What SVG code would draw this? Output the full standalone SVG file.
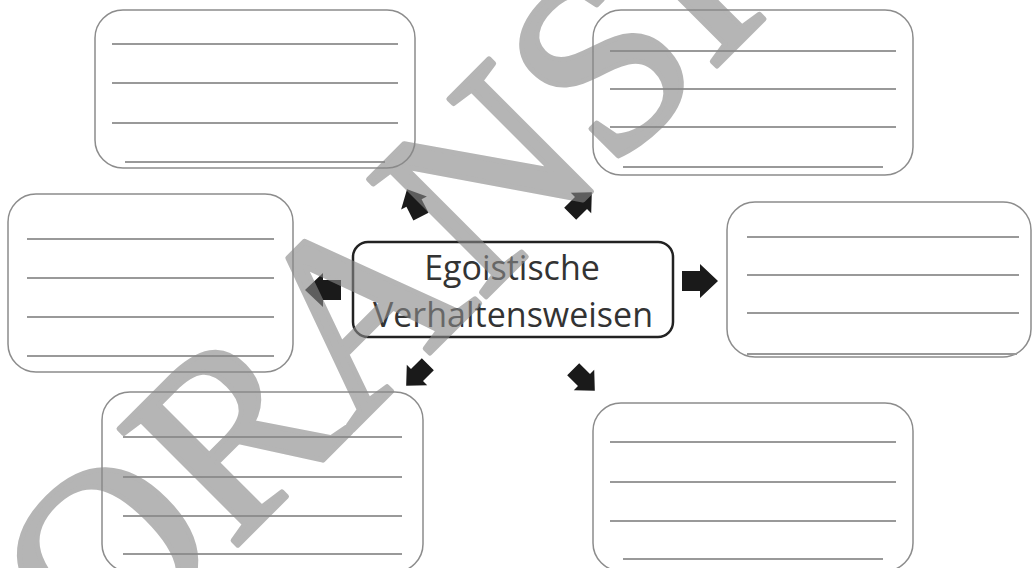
<svg xmlns="http://www.w3.org/2000/svg" width="1033" height="568" viewBox="0 0 1033 568">
  <defs>
    <style>
      .box { fill: #ffffff; stroke: #8c8c8c; stroke-width: 1.5; }
      .rule { stroke: #999999; stroke-width: 1.8; fill: none; }
      .center { fill: #ffffff; stroke: #222222; stroke-width: 2.5; }
      .label { font-family: "Open Sans", "Noto Sans", sans-serif; font-size: 34px; fill: #333333; text-anchor: middle; }
      .arrow { fill: #1a1a1a; }
      .wm { font-family: "Liberation Serif", serif; font-size: 254px; fill: #888888; stroke: #888888; stroke-width: 5; stroke-linejoin: round; }
    </style>
    <path id="blockArrow" d="M-18,-10 L0,-10 L0,-17 L18,0 L0,17 L0,10 L-18,10 Z"/>
  </defs>
  <rect width="1033" height="568" fill="#ffffff"/>

  <g id="box-top-left">
    <rect class="box" x="95" y="10" width="320" height="158" rx="28"/>
    <line class="rule" x1="112" y1="44" x2="398" y2="44"/>
    <line class="rule" x1="112" y1="83" x2="398" y2="83"/>
    <line class="rule" x1="112" y1="123" x2="398" y2="123"/>
    <line class="rule" x1="125" y1="162" x2="385" y2="162"/>
  </g>

  <g id="box-top-right">
    <rect class="box" x="593" y="10" width="320" height="165" rx="28"/>
    <line class="rule" x1="610" y1="51" x2="896" y2="51"/>
    <line class="rule" x1="610" y1="89" x2="896" y2="89"/>
    <line class="rule" x1="610" y1="127" x2="896" y2="127"/>
    <line class="rule" x1="623" y1="167" x2="883" y2="167"/>
  </g>

  <g id="box-left">
    <rect class="box" x="8" y="194" width="285" height="178" rx="28"/>
    <line class="rule" x1="27" y1="239" x2="274" y2="239"/>
    <line class="rule" x1="27" y1="278" x2="274" y2="278"/>
    <line class="rule" x1="27" y1="317" x2="274" y2="317"/>
    <line class="rule" x1="27" y1="356" x2="274" y2="356"/>
  </g>

  <g id="box-right">
    <rect class="box" x="727" y="202" width="304" height="155" rx="28"/>
    <line class="rule" x1="747" y1="237" x2="1019" y2="237"/>
    <line class="rule" x1="747" y1="275" x2="1019" y2="275"/>
    <line class="rule" x1="747" y1="313" x2="1019" y2="313"/>
    <line class="rule" x1="747" y1="354" x2="1017" y2="354"/>
  </g>

  <g id="box-bottom-left">
    <rect class="box" x="102" y="392" width="321" height="180" rx="28"/>
    <line class="rule" x1="123" y1="437" x2="402" y2="437"/>
    <line class="rule" x1="123" y1="477" x2="402" y2="477"/>
    <line class="rule" x1="123" y1="516" x2="402" y2="516"/>
    <line class="rule" x1="123" y1="554" x2="402" y2="554"/>
  </g>

  <g id="box-bottom-right">
    <rect class="box" x="593" y="403" width="320" height="168" rx="28"/>
    <line class="rule" x1="610" y1="442" x2="896" y2="442"/>
    <line class="rule" x1="610" y1="482" x2="896" y2="482"/>
    <line class="rule" x1="610" y1="521" x2="896" y2="521"/>
    <line class="rule" x1="623" y1="559" x2="883" y2="559"/>
  </g>

  <g id="center-node">
    <rect class="center" x="353" y="242" width="320" height="95" rx="15"/>
    <text class="label" x="512" y="280">Egoistische</text>
    <text class="label" x="513" y="327">Verhaltensweisen</text>
  </g>

  <g id="connectors">
    <use href="#blockArrow" class="arrow" transform="translate(700,281)"/>
    <use href="#blockArrow" class="arrow" transform="translate(323,290) rotate(180)"/>
    <use href="#blockArrow" class="arrow" transform="translate(414,203) rotate(-117) scale(0.85)"/>
    <use href="#blockArrow" class="arrow" transform="translate(581,203) rotate(-45) scale(0.85)"/>
    <use href="#blockArrow" class="arrow" transform="translate(417,375) rotate(135) scale(0.85)"/>
    <use href="#blockArrow" class="arrow" transform="translate(584,380) rotate(45) scale(0.85)"/>
  </g>

  <g id="watermark" opacity="0.62">
    <text class="wm" x="-28" y="811" transform="rotate(-45 -28 811)">VORANSICHT</text>
  </g>
</svg>
